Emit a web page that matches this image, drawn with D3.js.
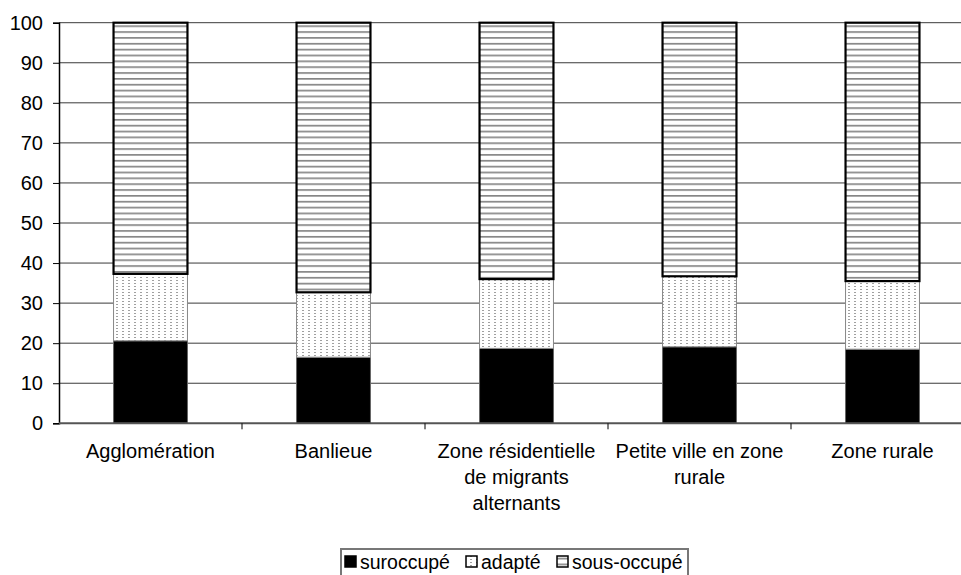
<!DOCTYPE html>
<html><head><meta charset="utf-8">
<script src="https://cdn.jsdelivr.net/npm/d3@7"></script>
<style>body{margin:0;background:#fff;}svg{display:block;font-family:"Liberation Sans",Arial,sans-serif;}</style>
</head><body>
<svg id="chart" width="961" height="575"></svg>
<script>
const categories = ["Agglomération", "Banlieue", "Zone résidentielle\nde migrants\nalternants", "Petite ville en zone\nrurale", "Zone rurale"];
const suroccupe = [20.6, 16.5, 18.7, 19.1, 18.5];
const adapte = [16.7, 16.2, 17.3, 17.6, 17.0];
const sousOccupe = [62.7, 67.3, 64.0, 63.3, 64.5];
const seriesNames = ["suroccupé", "adapté", "sous-occupé"];
const yTicks = [0, 10, 20, 30, 40, 50, 60, 70, 80, 90, 100];

const svg = d3.select("#chart");
const mLeft = 59, mRight = 974, mTop = 22.7, mBottom = 423.3;

const defs = svg.append("defs");
const pd = defs.append("pattern").attr("id", "dots").attr("patternUnits", "userSpaceOnUse")
  .attr("width", 6).attr("height", 3);
pd.append("rect").attr("width", 6).attr("height", 3).attr("fill", "#fff");
pd.append("rect").attr("x", 2).attr("y", 1).attr("width", 2).attr("height", 1).attr("fill", "#a0a0a0");
const pl = defs.append("pattern").attr("id", "lines").attr("patternUnits", "userSpaceOnUse")
  .attr("width", 6).attr("height", 5.85);
pl.append("rect").attr("width", 6).attr("height", 5.85).attr("fill", "#fff");
pl.append("rect").attr("y", 2).attr("width", 6).attr("height", 1.6).attr("fill", "#808080");

const fills = ["#000", "url(#dots)", "url(#lines)"];

const x = d3.scaleBand().domain(categories).range([mLeft, mRight]).paddingInner(0.596).paddingOuter(0.298);
const y = d3.scaleLinear().domain([0, 100]).range([mBottom, mTop]);

// grid
svg.append("g").selectAll("line").data(yTicks.filter(d => d > 0)).join("line")
  .attr("x1", mLeft).attr("x2", mRight).attr("y1", d => y(d)).attr("y2", d => y(d))
  .attr("stroke", "#3a3a3a").attr("stroke-width", 1);

// stacked data
const rows = categories.map((c, i) => ({cat: c, "suroccupé": suroccupe[i], "adapté": adapte[i], "sous-occupé": sousOccupe[i]}));
const stack = d3.stack().keys(seriesNames)(rows);

stack.forEach((s, si) => {
  svg.append("g").selectAll("rect").data(s).join("rect")
    .attr("x", d => x(d.data.cat))
    .attr("width", x.bandwidth())
    .attr("y", d => y(d[1]))
    .attr("height", d => y(d[0]) - y(d[1]))
    .attr("fill", fills[si])
    .attr("stroke", si === 2 ? "#000" : (si === 1 ? "#888" : "#666"))
    .attr("stroke-width", si === 2 ? 2.2 : 1);
});

// y axis
const yAxis = svg.append("g").attr("transform", `translate(${mLeft},0)`)
  .call(d3.axisLeft(y).tickValues(yTicks).tickSize(6).tickPadding(10));
yAxis.select(".domain").attr("stroke", "#000").attr("stroke-width", 1.5);
yAxis.selectAll(".tick line").attr("stroke", "#000");
yAxis.selectAll("text").attr("font-size", 20).attr("fill", "#000")
  .attr("font-family", '"Liberation Sans",Arial,sans-serif');

// x axis line
svg.append("line").attr("x1", mLeft).attr("x2", mRight).attr("y1", mBottom).attr("y2", mBottom)
  .attr("stroke", "#555").attr("stroke-width", 2);
const step = x.step();
const boundaries = categories.map(c => x(c) + x.bandwidth() / 2 + step / 2);
svg.append("g").selectAll("line").data(boundaries).join("line")
  .attr("x1", d => d).attr("x2", d => d).attr("y1", mBottom).attr("y2", mBottom + 6)
  .attr("stroke", "#000").attr("stroke-width", 1);

// category labels
categories.forEach(c => {
  const t = svg.append("text").attr("text-anchor", "middle").attr("font-size", 20).attr("fill", "#000")
    .attr("x", x(c) + x.bandwidth() / 2).attr("y", 458);
  c.split("\n").forEach((line, i) => {
    t.append("tspan").attr("x", x(c) + x.bandwidth() / 2).attr("dy", i === 0 ? 0 : 26).text(line);
  });
});

// legend
const lg = svg.append("g");
lg.append("rect").attr("x", 341).attr("y", 549).attr("width", 347).attr("height", 40)
  .attr("fill", "#fff").attr("stroke", "#777").attr("stroke-width", 2);
const legendX = [345, 466, 557];
seriesNames.forEach((n, i) => {
  lg.append("rect").attr("x", legendX[i]).attr("y", 556).attr("width", 11).attr("height", 11)
    .attr("fill", fills[i]).attr("stroke", "#000").attr("stroke-width", 1.5);
  lg.append("text").attr("x", legendX[i] + 15).attr("y", 569).attr("font-size", 19.5).attr("fill", "#000").text(n);
});
</script>
</body></html>
